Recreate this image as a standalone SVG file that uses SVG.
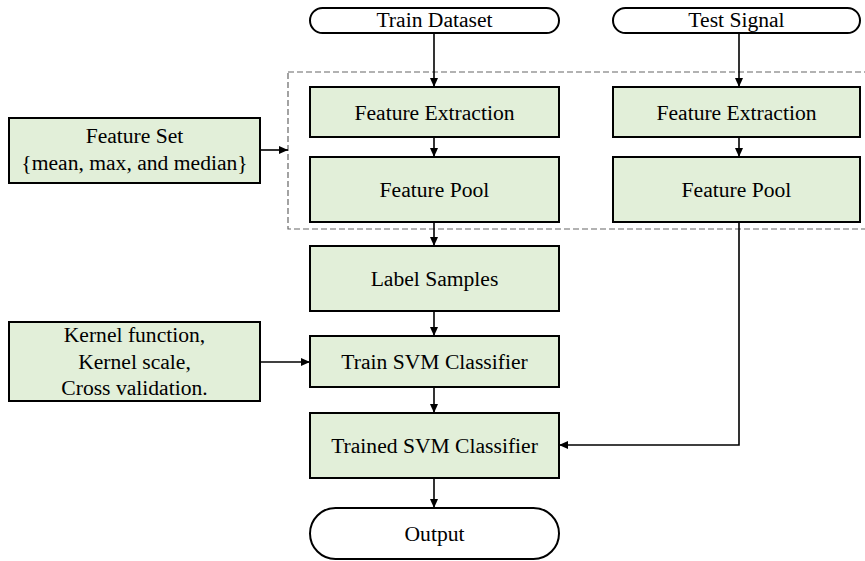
<svg xmlns="http://www.w3.org/2000/svg" width="865" height="561" viewBox="0 0 865 561">
<style>
.box{fill:#e2efd9;stroke:#000;stroke-width:2}
.pill{fill:#fff;stroke:#000;stroke-width:2}
.t{font-family:"Liberation Serif","Times New Roman",serif;font-size:21.6px;fill:#000;text-anchor:middle}
.c{fill:none;stroke:#000;stroke-width:1.6}
.dash{fill:none;stroke:#666;stroke-width:1.2;stroke-dasharray:6,3}
</style>
<defs>
<marker id="ah" markerUnits="userSpaceOnUse" markerWidth="10" markerHeight="10" refX="9" refY="5" orient="auto">
<path d="M0,1 L9,5 L0,9 Z" fill="#000"/>
</marker>
</defs>
<rect class="dash" x="288" y="72" width="580" height="157"/>
<g id="train-dataset"><rect class="pill" x="310" y="8" width="249" height="25" rx="12.5"/><text class="t" x="434.5" y="27">Train Dataset</text></g>
<g id="test-signal"><rect class="pill" x="613" y="8" width="247" height="25" rx="12.5"/><text class="t" x="736.5" y="27">Test Signal</text></g>
<g id="fe-train"><rect class="box" x="310" y="87" width="249" height="50"/><text class="t" x="434.5" y="119.5">Feature Extraction</text></g>
<g id="fp-train"><rect class="box" x="310" y="157" width="249" height="65"/><text class="t" x="434.5" y="196.5">Feature Pool</text></g>
<g id="fe-test"><rect class="box" x="613" y="87" width="247" height="50"/><text class="t" x="736.5" y="119.5">Feature Extraction</text></g>
<g id="fp-test"><rect class="box" x="613" y="157" width="247" height="65"/><text class="t" x="736.5" y="196.5">Feature Pool</text></g>
<g id="feature-set"><rect class="box" x="9" y="118" width="251" height="65"/><text class="t" x="134.5" y="143">Feature Set</text><text class="t" x="134.5" y="170">{mean, max, and median}</text></g>
<g id="label-samples"><rect class="box" x="310" y="246" width="249" height="65"/><text class="t" x="434.5" y="285.5">Label Samples</text></g>
<g id="kernel"><rect class="box" x="9" y="322" width="251" height="79"/><text class="t" x="134.5" y="342">Kernel function,</text><text class="t" x="134.5" y="368.5">Kernel scale,</text><text class="t" x="134.5" y="395">Cross validation.</text></g>
<g id="train-svm"><rect class="box" x="310" y="336" width="249" height="51"/><text class="t" x="434.5" y="368.5">Train SVM Classifier</text></g>
<g id="trained-svm"><rect class="box" x="310" y="413" width="249" height="65"/><text class="t" x="434.5" y="452.5">Trained SVM Classifier</text></g>
<g id="output"><rect class="pill" x="310" y="508" width="249" height="51" rx="25.5"/><text class="t" x="434.5" y="540.5">Output</text></g>
<g id="connectors">
<line class="c" x1="434" y1="33" x2="434" y2="87" marker-end="url(#ah)"/>
<line class="c" x1="434" y1="137" x2="434" y2="157" marker-end="url(#ah)"/>
<line class="c" x1="434" y1="222" x2="434" y2="246" marker-end="url(#ah)"/>
<line class="c" x1="434" y1="311" x2="434" y2="336" marker-end="url(#ah)"/>
<line class="c" x1="434" y1="387" x2="434" y2="413" marker-end="url(#ah)"/>
<line class="c" x1="434" y1="478" x2="434" y2="508" marker-end="url(#ah)"/>
<line class="c" x1="739" y1="33" x2="739" y2="87" marker-end="url(#ah)"/>
<line class="c" x1="739" y1="137" x2="739" y2="157" marker-end="url(#ah)"/>
<polyline class="c" points="739,222 739,445 559,445" marker-end="url(#ah)"/>
<line class="c" x1="260" y1="150" x2="288" y2="150" marker-end="url(#ah)"/>
<line class="c" x1="260" y1="362" x2="310" y2="362" marker-end="url(#ah)"/>
</g>
</svg>
